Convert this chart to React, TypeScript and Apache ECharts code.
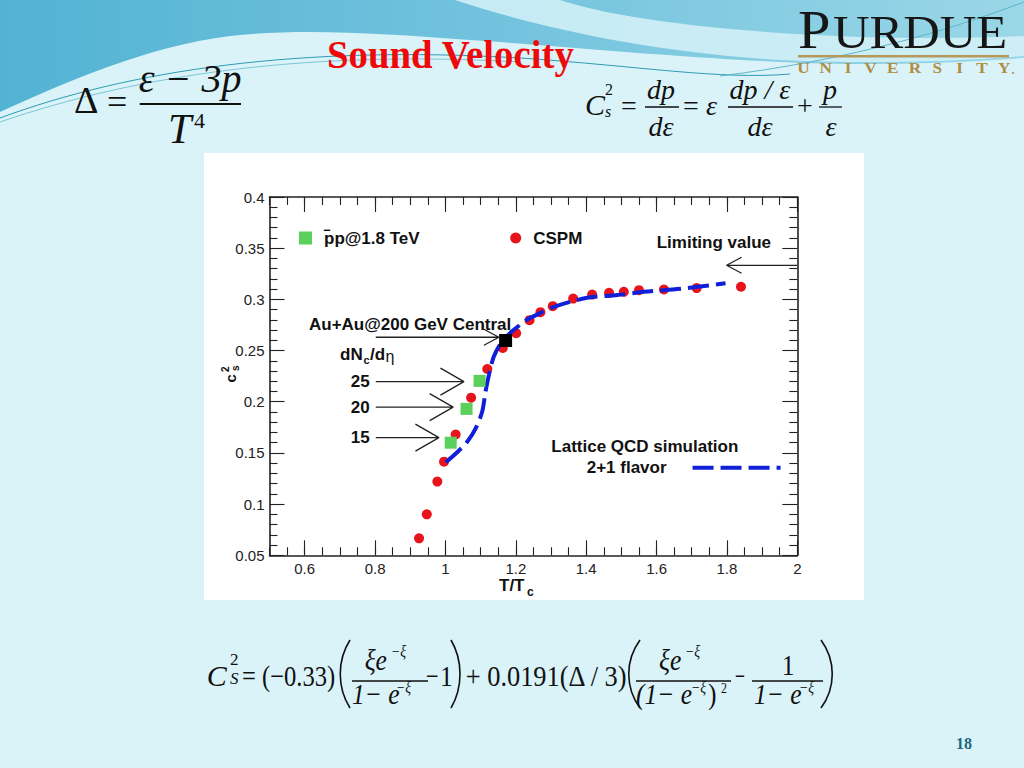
import React, { useEffect, useRef } from "react";
import * as echarts from "echarts";

// ---------------- data ----------------
const cspmT = [0.925, 0.947, 0.977, 0.996, 1.029, 1.073, 1.119, 1.163, 1.201, 1.239, 1.27, 1.305, 1.363, 1.417, 1.465, 1.507, 1.55, 1.621, 1.714, 1.84];
const cspmC = [0.0666, 0.09, 0.122, 0.1415, 0.168, 0.204, 0.232, 0.2526, 0.267, 0.2797, 0.2875, 0.2934, 0.3008, 0.3047, 0.3064, 0.3074, 0.309, 0.3096, 0.311, 0.3123];
const ppT = [1.015, 1.06, 1.097];
const ppC = [0.16, 0.193, 0.2204];
const auT = [1.171];
const auC = [0.2598];
const latT = [1.001, 1.0335, 1.062, 1.086, 1.1045, 1.114, 1.1236, 1.1378, 1.1614, 1.19, 1.2324, 1.2514, 1.3082, 1.403, 1.488, 1.564, 1.668, 1.796];
const latC = [0.1409, 0.1507, 0.161, 0.174, 0.1904, 0.21, 0.2262, 0.2445, 0.2592, 0.269, 0.2803, 0.2836, 0.2927, 0.3015, 0.3042, 0.3074, 0.3103, 0.3157];
const xMajorTicks = [0.6, 0.8, 1, 1.2, 1.4, 1.6, 1.8, 2];
// annotation arrows (T/Tc start, T/Tc tip, c_s^2 level)
const arrowStartT = [2.0, 0.802, 0.802, 0.802, 0.802];
const arrowTipT = [1.799, 1.152, 1.0526, 1.022, 0.9815];
const arrowLevel = [0.3333, 0.263, 0.2197, 0.1947, 0.165];
const dNLabels = ["25", "20", "15"];

const SER_PP = "pp@1.8 TeV";
const SER_CSPM = "CSPM";
const SER_LAT = "2+1 flavor";

// ---------------- layout / style ----------------
const GRID = { left: 269.5, top: 197, width: 527.8, height: 358.3 };
const X_MIN = 0.5, X_MAX = 2, Y_MIN = 0.05, Y_MAX = 0.4;
const xPerPx = (X_MAX - X_MIN) / GRID.width;
const yPerPx = (Y_MAX - Y_MIN) / GRID.height;
const headLenPx = [15, 15, 23.5, 23.5, 23.5];
const headHalfPx = [8, 8, 13.5, 13.5, 13.5];
const dNLabelY = [381.7, 407.3, 437.7];

const SANS = '"Liberation Sans", Arial, sans-serif';
const SERIF = '"Liberation Serif", "Times New Roman", serif';
const AX = "#222";
const RED = "#e8141c";
const GREEN = "#5bd05b";
const BLUE = "#1020d8";
const DASH = [21, 7];

// decorative slide shapes
const BAND_D = "M0 0 H1024 V58 C940 64 860 66 780 62 C660 56 560 46 470 40 C380 33 300 28 230 36 C150 46 70 80 0 112 Z";
const SWOOSH_D = "M455 0 C540 28 650 52 780 60 C860 64 950 62 1024 56 V36 C930 40 820 38 720 28 C640 20 590 10 560 0 Z";
echarts.graphic.registerShape("slideBand", echarts.graphic.extendPath(BAND_D, {}));
echarts.graphic.registerShape("slideSwoosh", echarts.graphic.extendPath(SWOOSH_D, {}));

type TOpts = { italic?: boolean; bold?: boolean; align?: string; fill?: string; family?: string; sx?: number; z?: number; rot?: number };

function txtMid(text: string, x: number, yMid: number, size: number, o: TOpts = {}) {
  const { italic = false, bold = false, align = "left", fill = "#111", family = SERIF, sx = 1, z = 50, rot = 0 } = o;
  return {
    type: "text",
    x,
    y: yMid,
    scaleX: sx,
    rotation: rot,
    z,
    silent: true,
    style: {
      text,
      font: `${italic ? "italic " : ""}${bold ? "bold " : ""}${size}px ${family}`,
      fill,
      textAlign: align,
      textVerticalAlign: "middle",
      align,
      verticalAlign: "middle",
    },
  };
}
function txtBase(text: string, x: number, baseline: number, size: number, o: TOpts = {}) {
  return txtMid(text, x, baseline - 0.34 * size, size, o);
}
function hline(x1: number, x2: number, y: number, w = 1.5, color = "#111", z = 50) {
  return { type: "line", z, silent: true, shape: { x1, y1: y, x2, y2: y }, style: { stroke: color, lineWidth: w } };
}
function paren(left: number, right: number, top: number, bottom: number, open: boolean) {
  const h = bottom - top;
  const a = open ? right : left;
  const b = open ? left - 2 : right + 2;
  return {
    type: "bezierCurve",
    z: 50,
    silent: true,
    shape: { x1: a, y1: top, cpx1: b, cpy1: top + 0.3 * h, cpx2: b, cpy2: top + 0.7 * h, x2: a, y2: bottom },
    style: { stroke: "#111", lineWidth: 1.6, fill: null },
  };
}

function buildArrowSeries() {
  return arrowStartT.map((s, i) => {
    const tip = arrowTipT[i];
    const y = arrowLevel[i];
    const dir = s > tip ? 1 : -1;
    const bx = tip + dir * headLenPx[i] * xPerPx;
    const dy = headHalfPx[i] * yPerPx;
    return {
      type: "line",
      name: "arrow" + i,
      silent: true,
      symbol: "none",
      z: 3,
      lineStyle: { color: AX, width: 1.3 },
      data: [[s, y], [tip, y], [bx, y + dy], [tip, y], [bx, y - dy]],
    };
  });
}

function buildSlideGraphics() {
  const g: any[] = [];
  // slide background
  g.push({ type: "rect", z: -100, silent: true, shape: { x: 0, y: 0, width: 1024, height: 768 }, style: { fill: "#daf3f8" } });
  g.push({
    type: "slideBand",
    x: 0,
    y: 0,
    z: -99,
    silent: true,
    style: {
      fill: new echarts.graphic.LinearGradient(0, 0, 1, 0, [
        { offset: 0, color: "#52b3d3" },
        { offset: 0.5, color: "#74c3de" },
        { offset: 1, color: "#9ad7e7" },
      ]),
    },
  });
  g.push({ type: "slideSwoosh", x: 0, y: 0, z: -98, silent: true, style: { fill: "rgba(214,242,248,0.85)" } });
  const lineStyle = { stroke: "#2d9bb5", lineWidth: 1, fill: null };
  g.push({ type: "bezierCurve", z: -97, silent: true, shape: { x1: 0, y1: 118, cpx1: 130, cpy1: 70, cpx2: 300, cpy2: 45, x2: 520, y2: 58 }, style: lineStyle });
  g.push({ type: "bezierCurve", z: -97, silent: true, shape: { x1: 0, y1: 122, cpx1: 140, cpy1: 74, cpx2: 310, cpy2: 50, x2: 520, y2: 62 }, style: { ...lineStyle, stroke: "#7cc6d8" } });
  g.push({ type: "bezierCurve", z: -97, silent: true, shape: { x1: 520, y1: 58, cpx1: 640, cpy1: 66, cpx2: 720, cpy2: 80, x2: 790, y2: 74 }, style: lineStyle });
  g.push({ type: "bezierCurve", z: -97, silent: true, shape: { x1: 720, y1: 76, cpx1: 850, cpy1: 60, cpx2: 950, cpy2: 30, x2: 1024, y2: 2 }, style: { ...lineStyle, stroke: "#5fb6cc" } });
  // white chart panel
  g.push({ type: "rect", z: -90, silent: true, shape: { x: 204, y: 153, width: 660, height: 447 }, style: { fill: "#ffffff" } });

  // title
  g.push(txtBase("Sound Velocity", 327, 68.5, 40, { bold: true, fill: "#ee0a0a", sx: 0.97 }));

  // Purdue logo
  g.push(txtBase("P", 798, 48, 54, { fill: "#161616", sx: 1.08 }));
  g.push(txtBase("URDUE", 833, 48, 46, { fill: "#161616", sx: 1.1 }));
  g.push({ type: "rect", z: 50, silent: true, shape: { x: 798, y: 55, width: 211, height: 2.5 }, style: { fill: "#b5985a" } });
  "UNIVERSITY".split("").forEach((ch, i) => {
    g.push(txtMid(ch, 803.5 + i * 22.3, 67.5, 15, { bold: true, fill: "#b08d45", align: "center", sx: 1.15 }));
  });
  g.push(txtMid(".", 1013, 70, 12, { bold: true, fill: "#b08d45", align: "center" }));

  // Delta formula
  g.push(txtBase("\u0394", 74, 113, 38));
  g.push(txtBase("=", 107, 114, 36));
  g.push(txtBase("\u03b5 \u2212 3p", 190, 92, 40, { italic: true, align: "center" }));
  g.push(hline(139.7, 241, 104, 2));
  g.push(txtBase("T", 168, 143, 42, { italic: true }));
  g.push(txtBase("4", 194, 128, 22));

  // C_s^2 = dp/de formula
  g.push(txtBase("C", 585, 115, 30, { italic: true }));
  g.push(txtBase("2", 605, 95, 16));
  g.push(txtBase("s", 605, 117, 16, { italic: true }));
  g.push(txtBase("=", 621, 115, 28));
  g.push(txtBase("dp", 661, 99, 28, { italic: true, align: "center" }));
  g.push(hline(645, 679, 107, 1.3));
  g.push(txtBase("d\u03b5", 661, 136, 28, { italic: true, align: "center" }));
  g.push(txtBase("=", 683, 115, 28));
  g.push(txtBase("\u03b5", 706, 115, 28, { italic: true }));
  g.push(txtBase("dp / \u03b5", 760, 99, 28, { italic: true, align: "center" }));
  g.push(hline(728, 793, 107, 1.3));
  g.push(txtBase("d\u03b5", 760, 136, 28, { italic: true, align: "center" }));
  g.push(txtBase("+", 797, 115, 28));
  g.push(txtBase("p", 830, 99, 28, { italic: true, align: "center" }));
  g.push(hline(819, 842, 107, 1.3));
  g.push(txtBase("\u03b5", 831, 136, 28, { italic: true, align: "center" }));

  // bottom formula
  const S = 0.85;
  g.push(txtBase("C", 206.8, 686, 30, { italic: true }));
  g.push(txtBase("2", 230, 665, 17));
  g.push(txtBase("S", 230, 684, 17, { italic: true }));
  g.push(txtBase("= (\u22120.33)", 242, 686, 30, { sx: 0.82 }));
  g.push(paren(339, 350, 640, 708, true));
  g.push(txtBase("\u03bee", 364.7, 670, 30, { italic: true, sx: S }));
  g.push(txtBase("\u2212\u03be", 391, 657, 16, { italic: true, sx: S }));
  g.push(hline(352, 428, 681, 1.3));
  g.push(txtBase("1\u2212 e", 352, 704, 30, { italic: true, sx: S }));
  g.push(txtBase("\u2212\u03be", 396, 693, 16, { italic: true, sx: S }));
  g.push(txtBase("\u2212", 426, 686, 30, { sx: 0.75 }));
  g.push(txtBase("1", 440, 686, 30, { sx: 0.85 }));
  g.push(paren(451, 461, 640, 708, false));
  g.push(txtBase("+ 0.0191(\u0394 / 3)", 465.7, 686, 30, { sx: 0.88 }));
  g.push(paren(627, 640, 640, 708, true));
  g.push(txtBase("\u03bee", 659, 670, 30, { italic: true, sx: S }));
  g.push(txtBase("\u2212\u03be", 685, 657, 16, { italic: true, sx: S }));
  g.push(hline(636, 731, 681, 1.3));
  g.push(txtBase("(1\u2212 e", 636, 704, 30, { italic: true, sx: S }));
  g.push(txtBase("\u2212\u03be", 691, 693, 16, { italic: true, sx: S }));
  g.push(txtBase(")", 708, 704, 30, { sx: S }));
  g.push(txtBase("2", 721, 693, 14, { sx: S }));
  g.push(txtBase("\u2212", 735, 686, 30, { sx: 0.6 }));
  g.push(txtBase("1", 788, 675, 30, { align: "center", sx: S }));
  g.push(hline(752, 823, 681, 1.3));
  g.push(txtBase("1\u2212 e", 754, 704, 30, { italic: true, sx: S }));
  g.push(txtBase("\u2212\u03be", 799, 693, 16, { italic: true, sx: S }));
  g.push(paren(821, 834, 640, 708, false));

  // page number
  g.push(txtMid("18", 964, 743, 16, { bold: true, fill: "#1d6780", align: "center" }));

  // chart annotations
  const A = { bold: true, family: SANS, fill: "#111" };
  g.push(hline(323.8, 330.3, 230.3, 1.4, "#111", 60)); // overline of anti-proton
  g.push(txtMid("Au+Au@200 GeV Central", 309, 324.7, 17, A));
  g.push(txtMid("dN", 340, 354.7, 17, A));
  g.push(txtMid("c", 363.5, 359.5, 11, A));
  g.push(txtMid("/d", 370, 354.7, 17, A));
  g.push(txtMid("\u03b7", 385.5, 356, 16, { family: SANS, fill: "#111" }));
  dNLabels.forEach((l, i) => g.push(txtMid(l, 350.7, dNLabelY[i], 17, A)));
  g.push(txtMid("Limiting value", 656.7, 242.3, 17, A));
  g.push(txtMid("Lattice QCD simulation", 551.3, 446.7, 17, A));
  g.push(txtMid("T/T", 499, 585.7, 17, A));
  g.push(txtMid("c", 527, 592, 12, A));
  // rotated y title c_s^2
  g.push(txtMid("c", 230.7, 378.3, 15, { ...A, align: "center", rot: Math.PI / 2 }));
  g.push(txtMid("2", 225.7, 369.3, 10, { ...A, align: "center", rot: Math.PI / 2 }));
  g.push(txtMid("s", 235.7, 368.3, 10, { ...A, align: "center", rot: Math.PI / 2 }));
  return g;
}

function buildOption() {
  const labelStyle = { fontSize: 15, color: "#222", fontFamily: SANS };
  const majorTick = { show: true, inside: true, length: 15, lineStyle: { color: AX, width: 1.1 } };
  const minorTick = { show: true, inside: true, length: 8, lineStyle: { color: AX, width: 1.1 } };
  const frame = { show: true, onZero: false, lineStyle: { color: AX, width: 1.6 } };
  const xBase = { type: "value", min: X_MIN, max: X_MAX, splitLine: { show: false }, gridIndex: 0 };
  const yBase = { type: "value", min: Y_MIN, max: Y_MAX, interval: 0.05, splitLine: { show: false }, gridIndex: 0 };
  const legendText = { fontSize: 17, fontWeight: "bold", fontFamily: SANS, color: "#111" };

  return {
    animation: false,
    backgroundColor: "transparent",
    grid: { ...GRID, containLabel: false },
    xAxis: [
      { ...xBase, position: "bottom", interval: 0.1, axisLine: frame, axisTick: { ...majorTick, customValues: xMajorTicks }, axisLabel: { ...labelStyle, margin: 6, customValues: xMajorTicks } },
      { ...xBase, position: "bottom", interval: 0.05, axisLine: { show: false }, axisTick: minorTick, axisLabel: { show: false } },
      { ...xBase, position: "top", interval: 0.1, axisLine: frame, axisTick: { ...majorTick, customValues: xMajorTicks }, axisLabel: { show: false } },
      { ...xBase, position: "top", interval: 0.05, axisLine: { show: false }, axisTick: minorTick, axisLabel: { show: false } },
    ],
    yAxis: [
      { ...yBase, position: "left", axisLine: frame, axisTick: majorTick, minorTick: { show: true, splitNumber: 5, length: 8, lineStyle: { color: AX, width: 1.1 } }, axisLabel: { ...labelStyle, margin: 5 } },
      { ...yBase, position: "right", axisLine: frame, axisTick: majorTick, minorTick: { show: true, splitNumber: 5, length: 8, lineStyle: { color: AX, width: 1.1 } }, axisLabel: { show: false } },
    ],
    legend: [
      {
        data: [{ name: SER_PP, icon: "rect" }],
        left: 299,
        top: 229.5,
        padding: 0,
        itemWidth: 13,
        itemHeight: 13,
        selectedMode: false,
        textStyle: { ...legendText, padding: [0, 0, 0, 7] },
      },
      {
        data: [{ name: SER_CSPM, icon: "circle" }],
        left: 510.2,
        top: 229.5,
        padding: 0,
        itemWidth: 11,
        itemHeight: 11,
        selectedMode: false,
        textStyle: { ...legendText, padding: [0, 0, 0, 7] },
      },
      {
        data: [{ name: SER_LAT }],
        left: 586.7,
        top: 459.2,
        padding: 0,
        align: "right",
        itemWidth: 88,
        itemHeight: 14,
        selectedMode: false,
        itemStyle: { opacity: 0, borderWidth: 0 },
        lineStyle: { width: 4, type: DASH, color: BLUE, opacity: 1 },
        textStyle: { ...legendText, padding: [0, 21, 0, 0] },
      },
    ],
    graphic: { elements: buildSlideGraphics() },
    series: [
      ...buildArrowSeries(),
      {
        type: "scatter",
        name: SER_CSPM,
        symbol: "circle",
        symbolSize: 10,
        itemStyle: { color: RED, opacity: 1 },
        z: 4,
        data: cspmT.map((t, i) => [t, cspmC[i]]),
      },
      {
        type: "line",
        name: SER_LAT,
        symbol: "none",
        showSymbol: false,
        smooth: 0.3,
        z: 5,
        lineStyle: { color: BLUE, width: 4, type: DASH },
        itemStyle: { color: BLUE },
        data: latT.map((t, i) => [t, latC[i]]),
      },
      {
        type: "scatter",
        name: SER_PP,
        symbol: "rect",
        symbolSize: 12,
        itemStyle: { color: GREEN, opacity: 1 },
        z: 6,
        data: ppT.map((t, i) => [t, ppC[i]]),
      },
      {
        type: "scatter",
        name: "Au+Au@200 GeV Central",
        symbol: "rect",
        symbolSize: 13,
        itemStyle: { color: "#000", opacity: 1 },
        z: 7,
        data: auT.map((t, i) => [t, auC[i]]),
      },
    ],
  };
}

export default function App() {
  const ref = useRef<HTMLDivElement>(null);
  useEffect(() => {
    if (!ref.current) return;
    const chart = echarts.init(ref.current, null, { renderer: "svg" });
    chart.setOption(buildOption() as any);
    return () => chart.dispose();
  }, []);
  return <div ref={ref} style={{ position: "absolute", left: 0, top: 0, width: 1024, height: 768 }} />;
}
